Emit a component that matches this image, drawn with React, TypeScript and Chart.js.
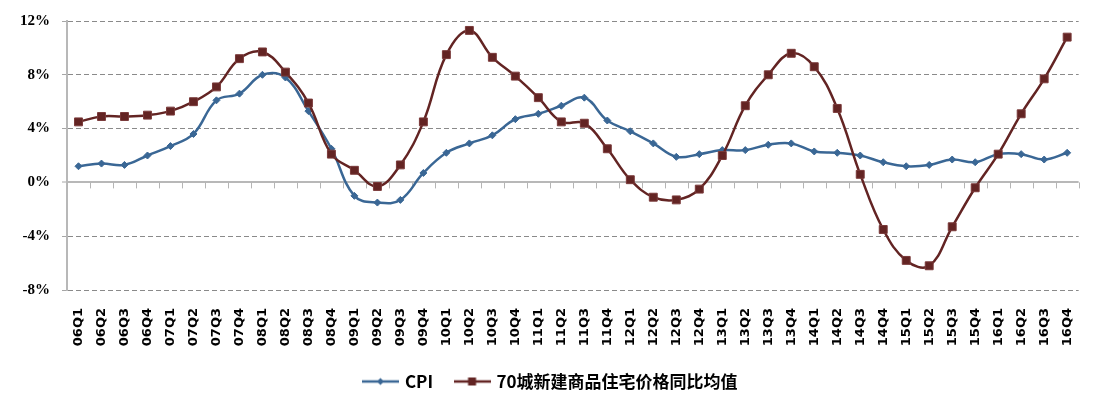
import React, { useEffect, useRef } from 'react';
import { Chart, registerables } from 'chart.js';

Chart.register(...registerables);

const quarters = [
  '06Q1', '06Q2', '06Q3', '06Q4',
  '07Q1', '07Q2', '07Q3', '07Q4',
  '08Q1', '08Q2', '08Q3', '08Q4',
  '09Q1', '09Q2', '09Q3', '09Q4',
  '10Q1', '10Q2', '10Q3', '10Q4',
  '11Q1', '11Q2', '11Q3', '11Q4',
  '12Q1', '12Q2', '12Q3', '12Q4',
  '13Q1', '13Q2', '13Q3', '13Q4',
  '14Q1', '14Q2', '14Q3', '14Q4',
  '15Q1', '15Q2', '15Q3', '15Q4',
  '16Q1', '16Q2', '16Q3', '16Q4',
];

const cpi = [
  1.2, 1.4, 1.3, 2.0,
  2.7, 3.6, 6.1, 6.6,
  8.0, 7.8, 5.3, 2.5,
  -1.0, -1.5, -1.3, 0.7,
  2.2, 2.9, 3.5, 4.7,
  5.1, 5.7, 6.3, 4.6,
  3.8, 2.9, 1.9, 2.1,
  2.4, 2.4, 2.8, 2.9,
  2.3, 2.2, 2.0, 1.5,
  1.2, 1.3, 1.7, 1.5,
  2.1, 2.1, 1.7, 2.2,
];

const housePrice = [
  4.5, 4.9, 4.9, 5.0,
  5.3, 6.0, 7.1, 9.2,
  9.7, 8.2, 5.9, 2.1,
  0.9, -0.3, 1.3, 4.5,
  9.5, 11.3, 9.3, 7.9,
  6.3, 4.5, 4.4, 2.5,
  0.2, -1.1, -1.3, -0.5,
  2.0, 5.7, 8.0, 9.6,
  8.6, 5.5, 0.6, -3.5,
  -5.8, -6.2, -3.3, -0.4,
  2.1, 5.1, 7.7, 10.8,
];

const seriesNames = ['CPI', '70城新建商品住宅价格同比均值'];
const yMin = -8;
const yMax = 12;
const yStep = 4;

const CPI_COLOR = '#3A6795';
const HOUSE_COLOR = '#632423';

function makeLegendIcon(color: string, marker: 'diamond' | 'square'): HTMLCanvasElement {
  const c = document.createElement('canvas');
  c.width = 37;
  c.height = 12;
  const g = c.getContext('2d')!;
  g.strokeStyle = color;
  g.lineWidth = 2.5;
  g.beginPath();
  g.moveTo(0, 6);
  g.lineTo(37, 6);
  g.stroke();
  g.fillStyle = color;
  if (marker === 'diamond') {
    g.beginPath();
    g.moveTo(18.5, 2.5);
    g.lineTo(22, 6);
    g.lineTo(18.5, 9.5);
    g.lineTo(15, 6);
    g.closePath();
    g.fill();
  } else {
    g.fillRect(14.5, 2, 8, 8);
  }
  return c;
}

const axisPlugin = {
  id: 'zeroAxisTicks',
  afterLayout(chart: any) {
    if (chart.legend) chart.legend.left += 22;
  },
  beforeDatasetsDraw(chart: any) {
    const { ctx, scales } = chart;
    const x = scales.x;
    const y = scales.y;
    const y0 = y.getPixelForValue(0);
    ctx.save();
    ctx.strokeStyle = '#B5B5B5';
    ctx.lineWidth = 1;
    for (let i = 0; i <= quarters.length; i++) {
      const px = Math.round(x.getPixelForValue(i - 0.5)) + 0.5;
      ctx.beginPath();
      ctx.moveTo(px, y0);
      ctx.lineTo(px, y0 + 6);
      ctx.stroke();
    }
    ctx.restore();
  },
};

export default function App() {
  const canvasRef = useRef<HTMLCanvasElement | null>(null);

  useEffect(() => {
    const canvas = canvasRef.current;
    if (!canvas) return;
    const icons = [makeLegendIcon(CPI_COLOR, 'diamond'), makeLegendIcon(HOUSE_COLOR, 'square')];
    const chart = new Chart(canvas, {
      type: 'line',
      data: {
        labels: quarters,
        datasets: [
          {
            label: seriesNames[0],
            data: cpi,
            borderColor: CPI_COLOR,
            backgroundColor: CPI_COLOR,
            borderWidth: 2.5,
            tension: 0.4,
            pointStyle: 'rectRot',
            pointRadius: 3.5,
            pointBackgroundColor: CPI_COLOR,
            pointBorderColor: CPI_COLOR,
            pointBorderWidth: 1,
            order: 1,
          },
          {
            label: seriesNames[1],
            data: housePrice,
            borderColor: HOUSE_COLOR,
            backgroundColor: HOUSE_COLOR,
            borderWidth: 2.5,
            tension: 0.4,
            pointStyle: 'rect',
            pointRadius: 5.6,
            pointBackgroundColor: HOUSE_COLOR,
            pointBorderColor: '#7A3A3A',
            pointBorderWidth: 1,
            order: 0,
          },
        ],
      },
      options: {
        responsive: false,
        animation: false,
        devicePixelRatio: 1,
        layout: { padding: { left: 0, right: 21, top: 20, bottom: 9 } },
        plugins: {
          tooltip: { enabled: false },
          legend: {
            position: 'bottom',
            labels: {
              usePointStyle: true,
              pointStyleWidth: 32,
              padding: 23,
              color: '#000000',
              font: { family: '"Noto Sans CJK SC", "Noto Sans", sans-serif', size: 17, weight: 'bold' },
              generateLabels: () =>
                seriesNames.map((name, i) => ({
                  text: name,
                  datasetIndex: i,
                  hidden: false,
                  pointStyle: icons[i],
                  fillStyle: i === 0 ? CPI_COLOR : HOUSE_COLOR,
                  strokeStyle: i === 0 ? CPI_COLOR : HOUSE_COLOR,
                  lineWidth: 0,
                  fontColor: '#000000',
                })),
            },
          },
        },
        scales: {
          x: {
            type: 'category',
            offset: true,
            grid: { display: false, drawTicks: false },
            border: { display: false },
            ticks: {
              autoSkip: false,
              minRotation: 90,
              maxRotation: 90,
              padding: 18,
              color: '#000000',
              font: { family: '"DejaVu Sans", sans-serif', size: 13, weight: 'bold' },
            },
            afterFit: (scale: any) => {
              scale.height = 60;
            },
          },
          y: {
            min: yMin,
            max: yMax,
            ticks: {
              stepSize: yStep,
              padding: 12,
              color: '#000000',
              font: { family: '"Liberation Serif", serif', size: 15, weight: 'bold' },
              callback: (v: any) => `${v}%`,
            },
            grid: {
              color: (ctx: any) => (ctx.tick && ctx.tick.value === 0 ? '#B8B8B8' : '#8A8A8A'),
              lineWidth: (ctx: any) => (ctx.tick && ctx.tick.value === 0 ? 2 : 1),
              tickLength: 5,
              tickColor: '#A6A6A6',
              tickWidth: 1,
            },
            border: {
              display: true,
              color: '#B8B8B8',
              width: 2,
              dash: (ctx: any) => (ctx.tick && ctx.tick.value !== 0 ? [5, 3] : []),
            },
            afterFit: (scale: any) => {
              scale.width = 67;
            },
          },
        },
      },
      plugins: [axisPlugin],
    } as any);
    return () => chart.destroy();
  }, []);

  return (
    <div style={{ position: 'fixed', left: 0, top: 0, width: 1101, height: 409, background: '#ffffff' }}>
      <canvas ref={canvasRef} width={1101} height={409} style={{ display: 'block', width: 1101, height: 409 }} />
    </div>
  );
}
